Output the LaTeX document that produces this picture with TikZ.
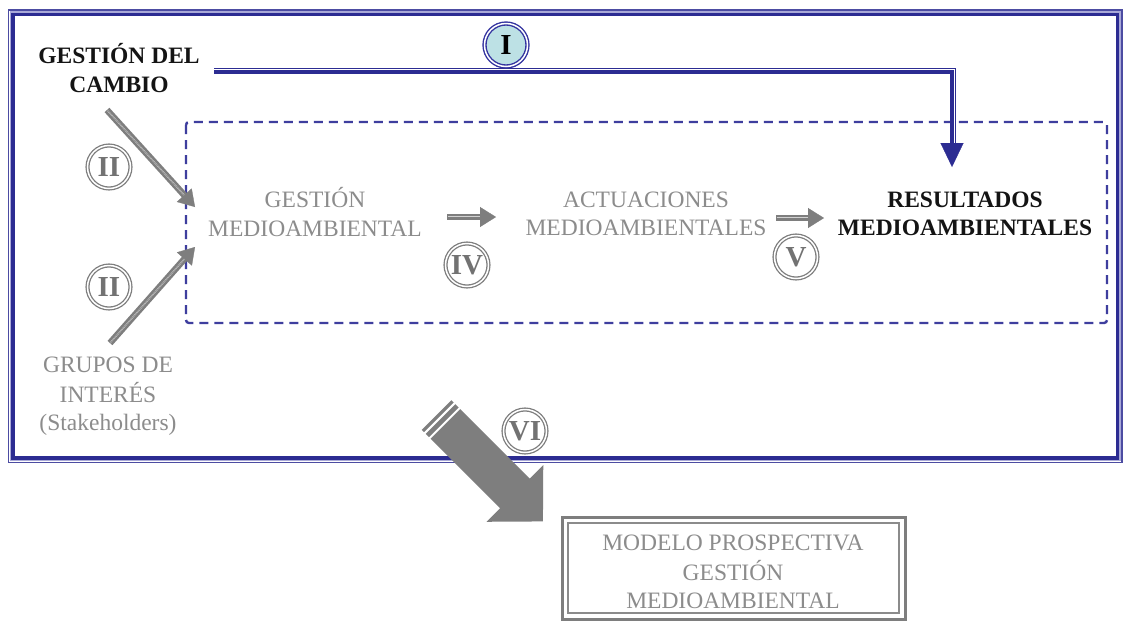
\documentclass[tikz,border=0pt]{standalone}
\usepackage{fontspec}
\setmainfont{Liberation Serif}
\usetikzlibrary{arrows.meta}

\definecolor{frameblue}{HTML}{2C2C92}
\definecolor{framelav}{HTML}{A9A9D8}
\definecolor{dashblue}{HTML}{3E3E9E}
\definecolor{arrowgray}{HTML}{7E7E7E}
\definecolor{numgray}{HTML}{727272}
\definecolor{textgray}{HTML}{8C8C8C}
\definecolor{corelight}{HTML}{D2D2D2}
\definecolor{ringblue}{HTML}{3434A0}
\definecolor{ringfill}{HTML}{BDE1E5}

\tikzset{
  txt/.style={align=center, inner sep=0pt, font=\fontsize{23.5}{28.5}\selectfont},
  graytxt/.style={txt, text=textgray},
  boldtxt/.style={txt, text=black!92, font=\fontsize{23.5}{28.5}\selectfont\bfseries},
  numring/.style={circle, minimum size=43pt, inner sep=0pt, draw=arrowgray,
    line width=1.3pt, double=white, double distance=1.5pt, fill=white,
    text=numgray, font=\fontsize{29}{29}\selectfont\bfseries},
  numringblue/.style={numring, draw=ringblue, fill=ringfill, text=black,
    line width=1.4pt},
  frameouter/.style={draw=frameblue!85, line width=1.3pt},
  framemid/.style={draw=framelav, line width=2pt},
  frameinner/.style={draw=frameblue, line width=3.6pt},
  dashbox/.style={draw=dashblue, line width=2.4pt, dash pattern=on 9pt off 6pt,
    rounded corners=3pt},
  grayshaft/.style={draw=arrowgray, line width=6.5pt, shorten >=13pt},
  graycore/.style={draw=corelight, line width=1.2pt, shorten >=15pt, shorten <=0.5pt},
  grayhead/.style={draw=arrowgray, fill=arrowgray, line width=0.3pt,
    -{Triangle[length=16pt,width=20pt]}},
  blueshaft/.style={draw=frameblue, line width=4.4pt, shorten >=21pt},
  bluethin/.style={draw=frameblue, line width=1.1pt, shorten >=24pt},
  bluehead/.style={draw=frameblue, line width=0.3pt,
    -{Triangle[length=24pt,width=23pt]}},
  modelouter/.style={draw=arrowgray, line width=3pt, minimum width=343pt,
    minimum height=102pt, inner sep=0pt},
  modelinner/.style={draw=arrowgray!90, line width=1.2pt, minimum width=331pt,
    minimum height=90pt, inner sep=0pt},
}

\begin{document}
\begin{tikzpicture}[x=1pt, y=-1pt]
\useasboundingbox (0,0) rectangle (1125,622);
\fill[white] (0,0) rectangle (1125,622);

% outer frame (thin rule, lavender band, heavy rule)
\draw[frameouter] (8.5,10) rectangle (1122,462.5);
\draw[framemid] (10.8,12.3) rectangle (1119.7,460.2);
\draw[frameinner] (13,14.5) rectangle (1117.5,458);

% dashed enclosure of the internal process
\draw[dashbox] (186,122) rectangle (1107,323);

% text blocks
\node[boldtxt] (cambio) at (119,72) {\strut GESTIÓN DEL\\CAMBIO\strut};
\node[graytxt] (gestion) at (315,216) {\strut GESTIÓN\\MEDIOAMBIENTAL\strut};
\node[graytxt] (actuac) at (646,216) {\strut ACTUACIONES\\MEDIOAMBIENTALES\strut};
\node[boldtxt] (result) at (965,216) {\strut RESULTADOS\\MEDIOAMBIENTALES\strut};
\node[graytxt] (grupos) at (108,396) {\strut GRUPOS DE\\INTERÉS\\(Stakeholders)\strut};

% connector I: change management to results
\coordinate (bstart) at (214,72);
\coordinate (btip) at (952,167);
\draw[blueshaft] (bstart) -| (btip);
\draw[bluethin] ([shift={(0,-3.6)}]bstart) -| ([shift={(3.6,0)}]btip);
\draw[bluehead] (bstart) -| (btip);

% connectors II, IV, V
\coordinate (iia) at (107,110);
\coordinate (iib) at (195,207);
\coordinate (iic) at (110,343);
\coordinate (iid) at (195,247);
\coordinate (iva) at (447,217);
\coordinate (ivb) at (496,217);
\coordinate (va) at (776,218);
\coordinate (vb) at (824,218);
\foreach \p/\q in {iia/iib, iic/iid, iva/ivb, va/vb}{
  \draw[grayshaft] (\p) -- (\q);
  \draw[graycore] (\p) -- (\q);
  \draw[grayhead] (\p) -- (\q);
}

% numbered markers
\node[numringblue] (n1) at (506,45) {I};
\node[numring] (n2a) at (109,167) {II};
\node[numring] (n2b) at (109,287) {II};
\node[numring] (n4) at (467,265) {IV};
\node[numring] (n5) at (796,257) {V};
\node[numring] (n6) at (525,431) {VI};

% broad arrow VI leading out of the frame
\begin{scope}[shift={(436.5,415)}, rotate=-45]
  \fill[arrowgray] (0,-21) -- (111,-21) -- (111,-40) -- (150.5,0)
    -- (111,40) -- (111,21) -- (0,21) -- cycle;
  \draw[white, line width=2pt] (4.5,-23) -- (4.5,23);
  \draw[white, line width=2pt] (11.5,-23) -- (11.5,23);
\end{scope}

% prospective model box
\node[modelouter] (modelbox) at (733.5,568) {};
\node[modelinner] (modelin) at (733.5,568) {};
\node[graytxt] (model) at (733,574) {\strut MODELO PROSPECTIVA\\GESTIÓN\\MEDIOAMBIENTAL\strut};
\end{tikzpicture}
\end{document}
